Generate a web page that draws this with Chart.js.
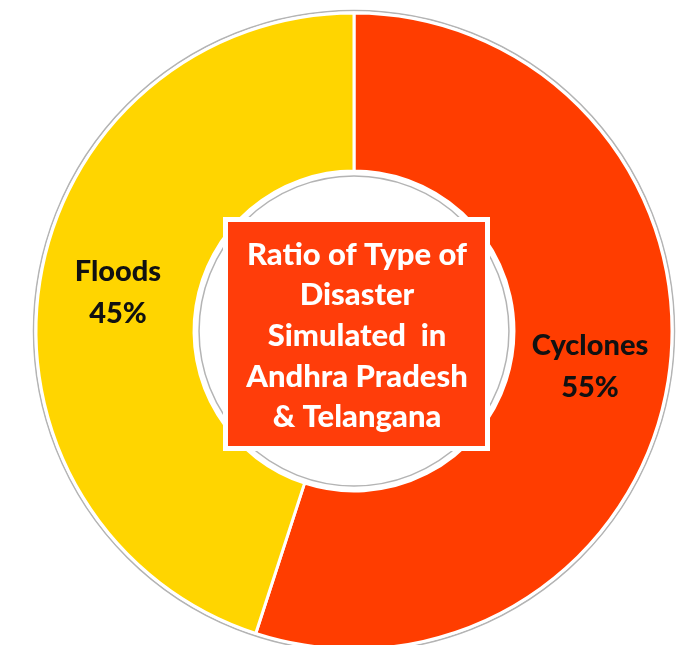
<!DOCTYPE html>
<html><head><meta charset="utf-8">
<script src="https://cdn.jsdelivr.net/npm/chart.js@4.4.1/dist/chart.umd.min.js"></script>
<style>
html,body{margin:0;padding:0;background:#fff;overflow:hidden}
#wrap{position:relative;width:690px;height:645px}
canvas{display:block}
</style></head><body>
<div id="wrap"><canvas id="c" width="690" height="645"></canvas></div>
<script>
const categories = ['Cyclones', 'Floods'];
const percentages = [55, 45];
const sliceColors = ['#FF3D00', '#FFD500'];
const centerTitle = ['Ratio of Type of', 'Disaster', 'Simulated  in', 'Andhra Pradesh', '& Telangana'];

const FONT = 'Lato, "Open Sans", sans-serif';

const decor = {
  id: 'decor',
  beforeDatasetsDraw(chart) {
    const arc = chart.getDatasetMeta(0).data[0];
    if (!arc) return;
    const {x, y, outerRadius} = arc.getProps(['x','y','outerRadius'], true);
    const ctx = chart.ctx;
    ctx.save();
    ctx.strokeStyle = '#b4b4b4';
    ctx.lineWidth = 1.5;
    ctx.beginPath();
    ctx.arc(x, y, outerRadius + 2.5, 0, Math.PI * 2);
    ctx.stroke();
    ctx.restore();
  },
  afterDatasetsDraw(chart) {
    const meta = chart.getDatasetMeta(0);
    const arc = meta.data[0];
    if (!arc) return;
    const {x, y, innerRadius} = arc.getProps(['x','y','innerRadius'], true);
    const ctx = chart.ctx;
    ctx.save();
    ctx.strokeStyle = '#b4b4b4';
    ctx.lineWidth = 1.5;
    ctx.beginPath();
    ctx.arc(x, y, innerRadius - 5, 0, Math.PI * 2);
    ctx.stroke();

    const bx = x - 131, by = y - 114, bw = 267, bh = 234;
    ctx.fillStyle = '#ffffff';
    ctx.fillRect(bx, by, bw, bh);
    ctx.fillStyle = '#FF3D0A';
    ctx.fillRect(bx + 5, by + 5, bw - 10, bh - 10);

    ctx.fillStyle = '#ffffff';
    ctx.font = '900 31px ' + FONT;
    ctx.textAlign = 'center';
    ctx.textBaseline = 'alphabetic';
    const baseY = [-66, -26, 15, 56, 96];
    centerTitle.forEach((t, i) => ctx.fillText(t, x + 3, y + baseY[i]));

    ctx.fillStyle = '#111111';
    ctx.font = '900 29px ' + FONT;
    meta.data.forEach((el, i) => {
      const p = el.getCenterPoint();
      ctx.fillText(categories[i], p.x, p.y - 13);
      ctx.fillText(percentages[i] + '%', p.x, p.y + 29);
    });
    ctx.restore();
  }
};

new Chart(document.getElementById('c'), {
  type: 'doughnut',
  data: {
    labels: categories,
    datasets: [{
      data: percentages,
      backgroundColor: sliceColors,
      borderColor: '#ffffff',
      borderWidth: 3,
      clip: false
    }]
  },
  options: {
    responsive: false,
    animation: false,
    rotation: 0,
    radius: 318,
    cutout: '50.3%',
    layout: {padding: {left: 18, top: 17, right: 0, bottom: 0}},
    plugins: {legend: {display: false}, tooltip: {enabled: false}}
  },
  plugins: [decor]
});
</script>
</body></html>
